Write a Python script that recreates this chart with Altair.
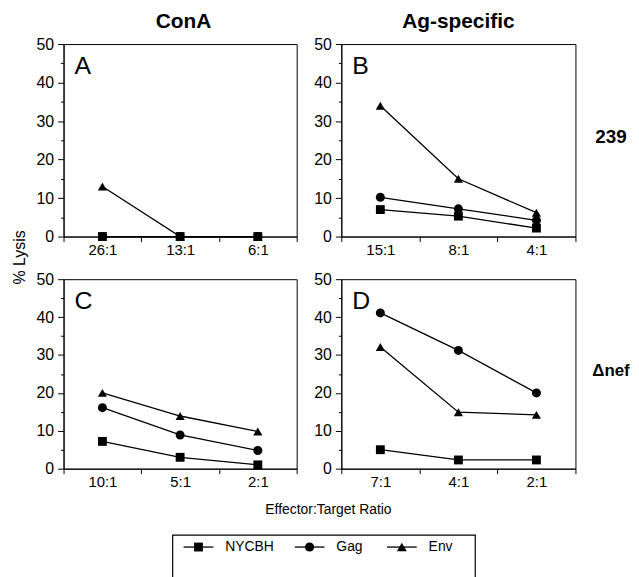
import altair as alt
import pandas as pd

FONT = "Liberation Sans"

series = ["NYCBH", "Gag", "Env"]
shapes = ["square", "circle", "triangle-up"]
marker_sizes = [80, 85, 100]

# Panel A: ConA, 239
ratios_A = ["26:1", "13:1", "6:1"]
nycbh_A = [0, 0, 0]
gag_A = [0, 0, 0]
env_A = [13, 0, 0]

# Panel B: Ag-specific, 239
ratios_B = ["15:1", "8:1", "4:1"]
nycbh_B = [7, 5.3, 2.2]
gag_B = [10.2, 7.2, 4.2]
env_B = [34, 15, 6.2]

# Panel C: ConA, delta-nef
ratios_C = ["10:1", "5:1", "2:1"]
nycbh_C = [7.2, 3.0, 1.0]
gag_C = [16.1, 8.9, 4.8]
env_C = [20.0, 13.9, 9.8]

# Panel D: Ag-specific, delta-nef
ratios_D = ["7:1", "4:1", "2:1"]
nycbh_D = [5.0, 2.3, 2.3]
gag_D = [41.1, 31.2, 20.0]
env_D = [32.1, 14.9, 14.2]

y_ticks = list(range(0, 51, 5))


def long_df(ratios, nycbh, gag, env):
    rows = []
    for name, vals in [("Env", env), ("Gag", gag), ("NYCBH", nycbh)]:
        for r, v in zip(ratios, vals):
            if v is not None:
                rows.append({"ratio": r, "series": name, "value": v})
    return pd.DataFrame(rows)


def note(text, x, y, size, weight="normal", align="left", baseline="alphabetic", angle=0):
    mk = dict(font=FONT, fontSize=size, fontWeight=weight, align=align,
              baseline=baseline, color="black")
    if angle:
        mk["angle"] = angle
    return alt.Chart(pd.DataFrame({"t": [text]})).mark_text(**mk).encode(
        text="t:N", x=alt.value(x), y=alt.value(y))


def legend_layers(ox, oy):
    """Boxed legend drawn inside a panel's layer, offset (ox, oy) from its plot origin."""
    layers = [alt.Chart(pd.DataFrame({"b": [0]})).mark_rect(
        fillOpacity=0, stroke="black", strokeWidth=1.2).encode(
        x=alt.value(ox), x2=alt.value(ox + 305), y=alt.value(oy), y2=alt.value(oy + 60))]
    legend_x = [26, 138, 231]
    for name, shp, sz, cx in zip(series, shapes, marker_sizes, legend_x):
        c = alt.Chart(pd.DataFrame({"series": [name]}))
        layers.append(c.mark_point(shape="M-1,0L1,0", size=900, color="black",
                                   strokeWidth=1.3, filled=False, opacity=1)
                      .encode(x=alt.value(ox + cx), y=alt.value(oy + 12)))
        layers.append(c.mark_point(shape=shp, size=sz, filled=True, color="black", opacity=1)
                      .encode(x=alt.value(ox + cx), y=alt.value(oy + 12)))
        layers.append(c.mark_text(font=FONT, fontSize=14, align="left", baseline="middle",
                                  dx=27, color="black")
                      .encode(text="series:N", x=alt.value(ox + cx), y=alt.value(oy + 12)))
    return layers


def panel(ratios, nycbh, gag, env, letter, w, h, extras):
    df = long_df(ratios, nycbh, gag, env)
    x = alt.X("ratio:N", sort=ratios,
              scale=alt.Scale(type="band", domain=ratios, paddingInner=0, paddingOuter=0),
              axis=alt.Axis(title=None, labelAngle=0, tickBand="extent", tickSize=5,
                            labelPadding=1, labelFontSize=15, labelFont=FONT))
    y = alt.Y("value:Q", scale=alt.Scale(domain=[0, 50], nice=False),
              axis=alt.Axis(title=None, values=y_ticks, grid=False,
                            labelExpr="datum.value % 10 === 0 ? datum.label : ''",
                            tickSize={"condition": {"test": "datum.value % 10 === 0", "value": 6}, "value": 3},
                            labelPadding=4, labelFontSize=16, labelFont=FONT))
    base = alt.Chart(df).encode(x=x, y=y)
    lines = base.mark_line(color="black", strokeWidth=1.3).encode(detail="series:N")
    pts = base.mark_point(filled=True, color="black", opacity=1).encode(
        shape=alt.Shape("series:N", scale=alt.Scale(domain=series, range=shapes), legend=None),
        size=alt.Size("series:O", scale=alt.Scale(domain=series, range=marker_sizes), legend=None),
    )
    lab = note(letter, 11, 30, 25)
    return alt.layer(lines, pts, lab, *extras).properties(width=w, height=h)


A = panel(ratios_A, nycbh_A, gag_A, env_A, "A", 235, 194, [
    note("ConA", 121, -16, 21, "bold", "center"),
    note("% Lysis", -38.5, 215, 16, align="center", angle=270),
])
B = panel(ratios_B, nycbh_B, gag_B, env_B, "B", 236, 194, [
    note("Ag-specific", 118, -16, 21, "bold", "center"),
    note("239", 256, 94, 19, "bold", baseline="middle"),
])
C = panel(ratios_C, nycbh_C, gag_C, env_C, "C", 235, 191, [
    note("Effector:Target Ratio", 267, 237, 14, align="center"),
    *legend_layers(110, 258),
])
D = panel(ratios_D, nycbh_D, gag_D, env_D, "D", 236, 191, [
    note("\u0394nef", 253, 93, 17, "bold", baseline="middle"),
])

chart = alt.concat(A, B, C, D, columns=2, spacing={"row": 43, "column": 45},
                   bounds="flush").configure_view(
    stroke="black", strokeWidth=1
).configure_axis(
    domainColor="black", tickColor="black", labelColor="black",
    domainWidth=1, tickWidth=1
).properties(background="white", padding={"left": 4, "top": 0, "right": 0, "bottom": 0})

chart.save("out.html", embed_options={"renderer": "svg", "actions": False})
